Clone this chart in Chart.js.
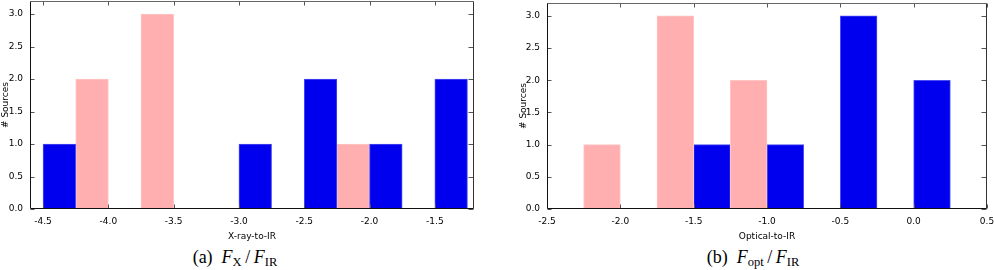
<!DOCTYPE html>
<html>
<head>
<meta charset="utf-8">
<script src="https://cdn.jsdelivr.net/npm/chart.js@4/dist/chart.umd.min.js"></script>
<style>
  html, body { margin: 0; padding: 0; background: #fff; }
  #wrap { position: relative; width: 994px; height: 270px; overflow: hidden; }
  canvas { position: absolute; top: 0; }
  #c1 { left: 0; }
  #c2 { left: 494px; }
  .cap { position: absolute; top: 247px; font-family: "Liberation Serif", "DejaVu Serif", serif; font-size: 18px; white-space: nowrap; transform: translateX(-50%); line-height: 20px; }
  .cap i { font-style: italic; }
  .cap sub { font-size: 12.5px; vertical-align: -3px; line-height: 0; }
</style>
</head>
<body>
<div id="wrap">
  <canvas id="c1" width="494" height="242"></canvas>
  <canvas id="c2" width="500" height="242"></canvas>
  <div class="cap" style="left:235px">(a)&nbsp; <i>F</i><sub>X</sub>&thinsp;/&thinsp;<i>F</i><sub>IR</sub></div>
  <div class="cap" style="left:753px">(b)&nbsp; <i>F</i><sub>opt</sub>&thinsp;/&thinsp;<i>F</i><sub>IR</sub></div>
</div>
<script>
// ---- Data (bin centres, bin width 0.25) ----
const xrayBlueBins   = [-4.375, -2.875, -2.375, -1.875, -1.375];
const xrayBlueCounts = [1, 1, 2, 1, 2];
const xrayPinkBins   = [-4.125, -3.625, -2.125];
const xrayPinkCounts = [2, 3, 1];

const optPinkBins    = [-2.125, -1.625, -1.125];
const optPinkCounts  = [1, 3, 2];
const optBlueBins    = [-1.375, -0.875, -0.375, 0.125];
const optBlueCounts  = [1, 1, 3, 2];

const yTickLabels = ['0.0', '0.5', '1.0', '1.5', '2.0', '2.5', '3.0'];
const xrayTitle = 'X-ray-to-IR';
const optTitle = 'Optical-to-IR';
const yTitle = '# Sources';

const BLUE = '#0000EE', BLUE_EDGE = '#4c4cf2';
const PINK = '#FFAFB0', PINK_EDGE = '#ffc4c4';
const FONT = { family: 'DejaVu Sans', size: 9 };

const frame = {
  id: 'frame',
  afterDatasetsDraw(chart) {
    const ctx = chart.ctx, a = chart.chartArea;
    const xs = chart.scales.x, ys = chart.scales.y;
    ctx.save();
    ctx.lineWidth = 1;
    const L = Math.round(a.left) + 0.5, R = Math.round(a.right) - 0.5;
    const T = Math.round(a.top) + 0.5, B = Math.round(a.bottom) - 0.5;
    ctx.strokeStyle = '#555';
    ctx.beginPath();
    xs.ticks.forEach(t => {
      const px = Math.round(xs.getPixelForValue(t.value)) + 0.5;
      ctx.moveTo(px, T); ctx.lineTo(px, T + 4);
      ctx.moveTo(px, B); ctx.lineTo(px, B - 4);
    });
    ys.ticks.forEach(t => {
      const py = Math.round(ys.getPixelForValue(t.value)) + 0.5;
      ctx.moveTo(L, py); ctx.lineTo(L + 4, py);
      ctx.moveTo(R, py); ctx.lineTo(R - 5, py);
    });
    ctx.stroke();
    ctx.strokeStyle = '#666';
    ctx.beginPath(); ctx.moveTo(L, T); ctx.lineTo(R, T); ctx.stroke();
    ctx.strokeStyle = '#333';
    ctx.beginPath(); ctx.moveTo(R, T); ctx.lineTo(R, B); ctx.stroke();
    ctx.strokeStyle = '#111';
    ctx.beginPath(); ctx.moveTo(L, T); ctx.lineTo(L, B); ctx.lineTo(R, B); ctx.stroke();
    ctx.restore();
  }
};

function makeChart(id, sets, xmin, xmax, xTitle, pad, yWidth) {
  return new Chart(document.getElementById(id), {
    type: 'bar',
    data: {
      datasets: sets.map(s => ({
        data: s.bins.map((b, i) => ({ x: b, y: s.counts[i] })),
        backgroundColor: s.color,
        borderColor: s.edge,
        borderWidth: 1,
        barPercentage: 1.0,
        categoryPercentage: 1.0,
        grouped: false
      }))
    },
    options: {
      responsive: false,
      animation: false,
      devicePixelRatio: 1,
      layout: { autoPadding: false, padding: pad },
      plugins: { legend: { display: false }, tooltip: { enabled: false } },
      scales: {
        x: {
          type: 'linear', min: xmin, max: xmax, offset: false,
          grid: { display: false, drawTicks: false },
          border: { display: false },
          ticks: { stepSize: 0.5, includeBounds: false, padding: 7, color: '#000', font: FONT,
                   maxRotation: 0, autoSkip: false,
                   callback: v => Number(v).toFixed(1) },
          title: { display: true, text: xTitle, color: '#000', font: FONT, padding: 0 },
          afterFit: s => { s.height = 33; s.paddingLeft = 0; s.paddingRight = 0; }
        },
        y: {
          min: 0, max: 3.2,
          grid: { display: false, drawTicks: false },
          border: { display: false },
          ticks: { stepSize: 0.5, includeBounds: false, padding: 7, color: '#000', font: FONT,
                   callback: (v) => yTickLabels[Math.round(v / 0.5)] },
          title: { display: true, text: yTitle, color: '#000', font: FONT, padding: 0 },
          afterFit: s => { s.width = yWidth; s.paddingTop = 0; s.paddingBottom = 0; }
        }
      }
    },
    plugins: [frame]
  });
}

makeChart('c1', [
  { bins: xrayBlueBins, counts: xrayBlueCounts, color: BLUE, edge: BLUE_EDGE },
  { bins: xrayPinkBins, counts: xrayPinkCounts, color: PINK, edge: PINK_EDGE }
], -4.6, -1.2, xrayTitle, { left: 0, top: 1, right: 20, bottom: 0 }, 30);

makeChart('c2', [
  { bins: optPinkBins, counts: optPinkCounts, color: PINK, edge: PINK_EDGE },
  { bins: optBlueBins, counts: optBlueCounts, color: BLUE, edge: BLUE_EDGE }
], -2.5, 0.5, optTitle, { left: 24, top: 3, right: 7, bottom: 0 }, 29);
</script>
</body>
</html>
